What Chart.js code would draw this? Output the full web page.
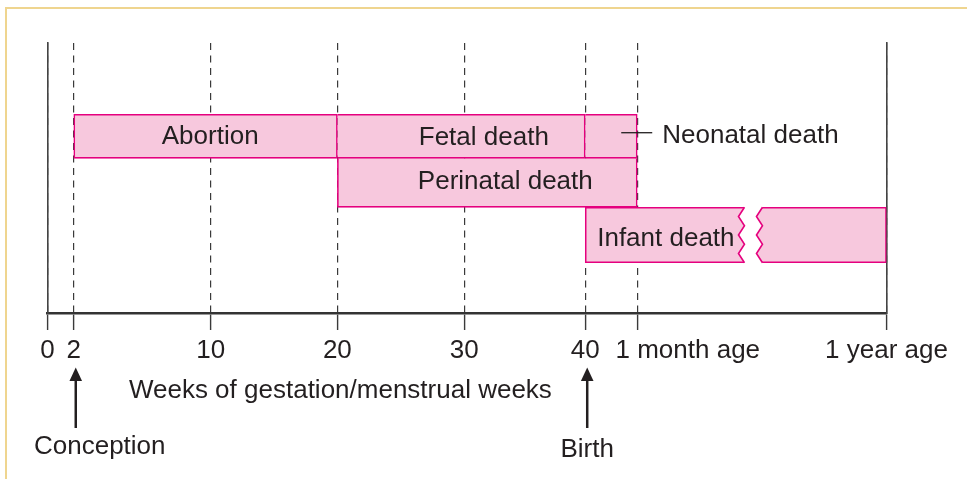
<!DOCTYPE html>
<html lang="en">
<head>
<meta charset="UTF-8">
<title>Pregnancy loss and early death periods</title>
<script src="https://cdn.jsdelivr.net/npm/chart.js"></script>
<style>
  body { margin: 0; background: #fff; }
  #wrap { position: relative; width: 967px; height: 479px; }
  #frame {
    position: absolute; left: 5px; top: 7px; right: 0; bottom: 0;
    border-top: 2px solid #efd58f; border-left: 2px solid #efd58f;
  }
  #chartBox { position: absolute; left: 0; top: 0; width: 967px; height: 479px; }
</style>
</head>
<body>
<div id="wrap">
  <div id="frame"></div>
  <div id="chartBox"><canvas id="timeline"></canvas></div>
</div>
<script>
// axis ticks (weeks of gestation; 1 month after birth = 44, 1 year after birth = 92)
const tickWeeks = [0, 2, 10, 20, 30, 40, 44, 92];
const tickLabels = ['0', '2', '10', '20', '30', '40', '1 month age', '1 year age'];

// periods shown as bars
const periods = ['Abortion', 'Fetal death', 'Neonatal death', 'Perinatal death', 'Infant death'];
const periodStart = [2, 20, 40, 20, 40];
const periodEnd = [20, 40, 44, 44, 92];
const periodLane = [1, 1, 1, 2, 3];

// arrows under the axis
const markers = ['Conception', 'Birth'];
const markerWeeks = [2, 40];

const axisTitle = 'Weeks of gestation/menstrual weeks';

// layout of the schematic (not data)
const xKnots = [[0, 0], [2, 0.0313], [10, 0.1946], [20, 0.3455], [30, 0.4966], [40, 0.6409], [44, 0.7029], [92, 1]];
const yKnots = [[0, 0], [1, 0.3456], [2, 0.5178], [3, 0.7111], [4, 1]];
const laneThickness = [0, 44, 49, 55.5];
const skipped = [false, 'left', 'left', 'top', false];
const FONT = '"Liberation Sans", Arial, Helvetica, sans-serif';
const INK = '#231f20';
const PINK = '#e5007e';
const PINK_FILL = '#f7c8dd';

// linear scale whose value->pixel mapping follows the drawing's uneven spacing
class PiecewiseScale extends (Chart.LinearScale || Chart.registry.getScale('linear')) {
    static id = 'piecewise';
    static defaults = {};
    toDecimal(v) {
        const k = this.options.knots;
        if (v <= k[0][0]) return k[0][1];
        for (let i = 1; i < k.length; i++) {
            if (v <= k[i][0]) {
                const a = k[i - 1], b = k[i];
                return a[1] + (v - a[0]) / (b[0] - a[0]) * (b[1] - a[1]);
            }
        }
        return k[k.length - 1][1];
    }
    getPixelForValue(value) {
        if (value === null || value === undefined || isNaN(value)) return NaN;
        return this.getPixelForDecimal(this.toDecimal(value));
    }
}
Chart.register(PiecewiseScale);

function text(ctx, str, x, y, align) {
    ctx.textAlign = align || 'center';
    ctx.textBaseline = 'alphabetic';
    ctx.fillText(str, x, y);
}

const annotate = {
    id: 'annotate',
    afterDatasetsDraw(chart, args, opts) {
        const ctx = chart.ctx;
        const xs = chart.scales.x;
        const area = chart.chartArea;
        ctx.save();

        // break in the infant bar
        const inf = chart.getDatasetMeta(opts.breakBar).data[0];
        const c = xs.getPixelForValue(opts.breakWeek);
        const top = inf.y - inf.height / 2, bot = inf.y + inf.height / 2;
        const zig = (edge) => {
            const pts = [];
            const n = 6;
            for (let i = 0; i <= n; i++) {
                pts.push([i % 2 === 0 ? edge : edge - 6, top + (bot - top) * i / n]);
            }
            return pts;
        };
        const left = zig(c - 7), right = zig(c + 11);
        ctx.fillStyle = '#fff';
        ctx.beginPath();
        ctx.moveTo(left[0][0], top - 2);
        left.forEach(p => ctx.lineTo(p[0], p[1]));
        ctx.lineTo(left[left.length - 1][0], bot + 2);
        ctx.lineTo(right[right.length - 1][0], bot + 2);
        right.slice().reverse().forEach(p => ctx.lineTo(p[0], p[1]));
        ctx.lineTo(right[0][0], top - 2);
        ctx.closePath();
        ctx.fill();
        ctx.strokeStyle = PINK;
        ctx.lineWidth = 1.6;
        [left, right].forEach(pts => {
            ctx.beginPath();
            pts.forEach((p, i) => i ? ctx.lineTo(p[0], p[1]) : ctx.moveTo(p[0], p[1]));
            ctx.stroke();
        });

        // bar labels
        ctx.fillStyle = INK;
        ctx.font = '26px ' + FONT;
        periods.forEach((name, i) => {
            const bar = chart.getDatasetMeta(i).data[0];
            const lay = opts.labels[i];
            if (lay.outside) {
                ctx.strokeStyle = INK;
                ctx.lineWidth = 1.3;
                ctx.beginPath();
                ctx.moveTo(bar.x - 16, bar.y + lay.line);
                ctx.lineTo(bar.x + 15, bar.y + lay.line);
                ctx.stroke();
                text(ctx, name, bar.x + 25, bar.y + lay.dy, 'left');
            } else if (lay.align === 'left') {
                text(ctx, name, bar.base + lay.dx, bar.y + lay.dy, 'left');
            } else {
                text(ctx, name, (bar.base + bar.x) / 2 + lay.dx, bar.y + lay.dy, 'center');
            }
        });

        // axis title
        text(ctx, axisTitle, xs.getPixelForValue(opts.titleAt) + 3, area.bottom + 85.3, 'center');

        // arrows and their labels
        markers.forEach((name, i) => {
            const ax = xs.getPixelForValue(markerWeeks[i]) + 2;
            const tip = area.bottom + 54.5;
            ctx.strokeStyle = INK;
            ctx.lineWidth = 2.5;
            ctx.beginPath();
            ctx.moveTo(ax, area.bottom + 115);
            ctx.lineTo(ax, tip + 10);
            ctx.stroke();
            ctx.beginPath();
            ctx.moveTo(ax, tip);
            ctx.lineTo(ax + 6.3, tip + 13.5);
            ctx.lineTo(ax - 6.3, tip + 13.5);
            ctx.closePath();
            ctx.fill();
            const m = opts.markerLayout[i];
            text(ctx, name, ax + m.dx, area.bottom + m.base, 'center');
        });

        ctx.restore();
    }
};

const monthPad = '\u00a0'.repeat(14);

new Chart(document.getElementById('timeline'), {
    type: 'bar',
    data: {
        datasets: periods.map((name, i) => ({
            label: name,
            data: [{ x: [periodStart[i], periodEnd[i]], y: periodLane[i] }],
            backgroundColor: PINK_FILL,
            borderColor: PINK,
            borderWidth: 1.6,
            borderSkipped: skipped[i],
            barThickness: laneThickness[periodLane[i]],
            grouped: false
        }))
    },
    options: {
        indexAxis: 'y',
        responsive: true,
        maintainAspectRatio: false,
        animation: false,
        events: [],
        layout: { padding: { left: 47.5, right: 80.5, top: 43, bottom: 0 } },
        plugins: {
            legend: { display: false },
            tooltip: { enabled: false },
            annotate: {
                breakBar: 4,
                breakWeek: 66,
                titleAt: 20,
                labels: [
                    { dx: 4.6, dy: 8 },
                    { dx: 22.5, dy: 8.7 },
                    { outside: true, line: -3.6, dy: 6.4 },
                    { dx: 18, dy: 6.6 },
                    { align: 'left', dx: 12, dy: 11 }
                ],
                markerLayout: [{ dx: 24, base: 141 }, { dx: 0, base: 143.7 }]
            }
        },
        scales: {
            x: {
                type: 'piecewise',
                min: 0,
                max: 92,
                knots: xKnots,
                afterBuildTicks: s => { s.ticks = tickWeeks.map(v => ({ value: v })); },
                afterFit: s => { s.height = 166; },
                grid: { color: '#3a3a3a', lineWidth: 1.2, tickLength: 17, tickColor: '#3a3a3a', tickWidth: 1.4 },
                border: { color: '#333', width: 2.6, dash: [7, 5.5] },
                ticks: {
                    autoSkip: false,
                    maxRotation: 0,
                    minRotation: 0,
                    padding: 5.5,
                    color: INK,
                    font: { family: FONT, size: 26 },
                    callback: (v, i) => i === 6 ? monthPad + tickLabels[i] : tickLabels[i]
                }
            },
            y: {
                type: 'piecewise',
                min: 0,
                max: 4,
                reverse: true,
                knots: yKnots,
                afterFit: s => { s.width = 0; },
                ticks: { display: false },
                grid: { color: 'transparent', drawTicks: false },
                border: { color: '#444', width: 1.6 }
            },
            y2: {
                type: 'linear',
                position: 'right',
                afterFit: s => { s.width = 0; },
                ticks: { display: false },
                grid: { color: 'transparent', drawTicks: false },
                border: { color: '#444', width: 1.6 }
            }
        }
    },
    plugins: [annotate]
});
</script>
</body>
</html>
